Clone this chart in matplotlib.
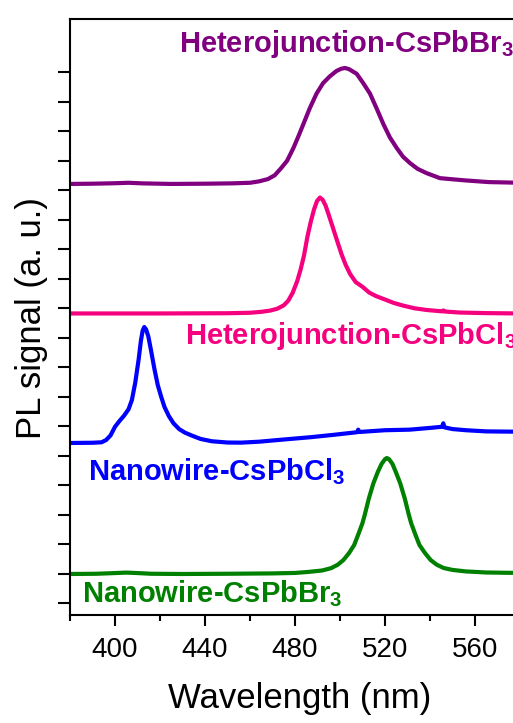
import matplotlib
matplotlib.use("Agg")
import matplotlib.pyplot as plt
from matplotlib.ticker import MultipleLocator

plt.rcParams['font.family'] = ['Liberation Sans', 'DejaVu Sans']
plt.rcParams['mathtext.fontset'] = 'custom'
plt.rcParams['mathtext.rm'] = 'Liberation Sans'
plt.rcParams['mathtext.bf'] = 'Liberation Sans:bold'

# normalized PL spectra (peak = 1)
wl_nw_br = [380, 392, 400, 405, 410, 416, 430, 450, 470, 480, 486, 492, 496, 499, 501.5,
            504, 506.3, 508.3, 510, 511, 512.8, 514.8, 516.8, 518.5, 520, 520.8, 521.8,
            523.3, 524.8, 526.8, 528.8, 530.6, 531.6, 533.3, 535.3, 537.8, 540.3, 543,
            546, 550, 556, 565, 575, 580]
pl_nw_br = [0.0, 0.002, 0.008, 0.012, 0.008, 0.002, 0.0, 0.002, 0.005, 0.009, 0.018, 0.03,
            0.05, 0.08, 0.12, 0.18, 0.25, 0.35, 0.44, 0.51, 0.65, 0.78, 0.88, 0.95, 0.99,
            1.0, 0.99, 0.95, 0.88, 0.78, 0.65, 0.51, 0.44, 0.35, 0.25, 0.18, 0.12, 0.08,
            0.052, 0.035, 0.022, 0.013, 0.01, 0.01]

wl_nw_cl = [380, 390, 394, 396, 398, 400, 402, 404, 406, 407.5, 409, 410.5, 411.5, 412.3,
            413, 413.8, 414.8, 416, 417.5, 419, 420.5, 422, 424, 426, 428.5, 431, 434, 438,
            443, 450, 456, 464, 475, 487, 497, 507.6, 508.1, 508.6, 520, 531, 540, 545.4,
            545.9, 546.4, 550, 556, 565, 580]
pl_nw_cl = [0.0, 0.002, 0.006, 0.025, 0.065, 0.14, 0.19, 0.235, 0.29, 0.37, 0.52, 0.72,
            0.88, 0.97, 1.0, 0.98, 0.92, 0.8, 0.64, 0.5, 0.4, 0.31, 0.23, 0.17, 0.12, 0.09,
            0.065, 0.035, 0.015, 0.004, 0.003, 0.011, 0.03, 0.05, 0.07, 0.093, 0.115, 0.095,
            0.11, 0.115, 0.13, 0.14, 0.17, 0.135, 0.12, 0.11, 0.10, 0.097]

wl_hj_cl = [380, 420, 450, 460, 465, 469, 472, 475, 477, 479, 481, 482.5, 484, 485.5, 487,
            488.5, 489.8, 491.1, 492.3, 493.6, 495, 497, 499, 500.7, 502.5, 504.5, 507, 510,
            513, 516, 520, 524, 528, 533, 538.5, 545.5, 546, 546.5, 553, 565, 580]
pl_hj_cl = [0.0, 0.0, 0.002, 0.006, 0.014, 0.025, 0.04, 0.07, 0.11, 0.18, 0.28, 0.38, 0.5,
            0.66, 0.79, 0.9, 0.97, 1.0, 0.98, 0.93, 0.85, 0.73, 0.61, 0.51, 0.42, 0.34, 0.27,
            0.23, 0.18, 0.15, 0.12, 0.09, 0.068, 0.045, 0.03, 0.018, 0.026, 0.017, 0.008,
            0.003, 0.0]

wl_hj_br = [380, 390, 400, 406, 412, 425, 440, 452, 460, 464, 468, 471, 474, 476.5, 479.3,
            481.5, 483.7, 486.5, 489.6, 492.5, 495.6, 498.5, 500.5, 502.2, 504, 507.4,
            510.3, 513.3, 516.3, 519.3, 522.2, 525.2, 528, 531.1, 534.5, 538.5, 544.4, 550,
            556, 566, 580]
pl_hj_br = [0.0, 0.002, 0.006, 0.01, 0.005, 0.0, 0.002, 0.005, 0.01, 0.022, 0.042, 0.075,
            0.14, 0.2, 0.31, 0.41, 0.515, 0.65, 0.78, 0.87, 0.93, 0.975, 0.993, 1.0, 0.99,
            0.95, 0.87, 0.78, 0.65, 0.515, 0.40, 0.31, 0.235, 0.18, 0.13, 0.093, 0.05, 0.04,
            0.03, 0.016, 0.01]

offsets = [1.0, 5.44, 9.83, 14.22]
scale = 3.93
colors = ['#008000', '#0000FF', '#F5007F', '#800080']
labels = [r'Nanowire-CsPbBr$_\mathbf{3}$', r'Nanowire-CsPbCl$_\mathbf{3}$',
          r'Heterojunction-CsPbCl$_\mathbf{3}$', r'Heterojunction-CsPbBr$_\mathbf{3}$']
label_pos = [(385.2, 0.06), (387.9, 4.19), (431.0, 8.80), (428.5, 18.69)]

fig = plt.figure(figsize=(5.13, 7.23), dpi=100)
ax = fig.add_axes([70 / 513, 108 / 723, 450 / 513, 596 / 723])

series = [(wl_nw_br, pl_nw_br), (wl_nw_cl, pl_nw_cl), (wl_hj_cl, pl_hj_cl), (wl_hj_br, pl_hj_br)]
for (wl, pl), off, c, lab, pos in zip(series, offsets, colors, labels, label_pos):
    ax.plot(wl, [off + scale * v for v in pl], color=c, lw=3.0,
            solid_joinstyle='round', solid_capstyle='round')
    ax.text(pos[0], pos[1], lab, color=c, fontsize=21, fontweight='bold',
            ha='left', va='baseline')

ax.set_xlim(380, 580)
ax.set_ylim(-0.39, 19.81)
ax.xaxis.set_major_locator(MultipleLocator(40))
ax.xaxis.set_minor_locator(MultipleLocator(20))
ax.set_yticks(range(19))
ax.set_yticklabels([])
ax.tick_params(axis='x', which='major', direction='out', length=8, width=1.5,
               labelsize=20, pad=7.5)
ax.tick_params(axis='x', which='minor', direction='out', length=4.5, width=1.5)
ax.tick_params(axis='y', which='major', direction='out', length=8.5, width=1.5, right=False)
ax.spines['right'].set_visible(False)
for s in ['left', 'bottom', 'top']:
    ax.spines[s].set_linewidth(1.5)

ax.set_ylabel('PL signal (a. u.)', fontsize=25)
ax.yaxis.set_label_coords(-0.049, 0.4975)
fig.text(300 / 513, 15 / 723, 'Wavelength (nm)', fontsize=25, ha='center', va='baseline')

fig.savefig('out.png', dpi=100)
